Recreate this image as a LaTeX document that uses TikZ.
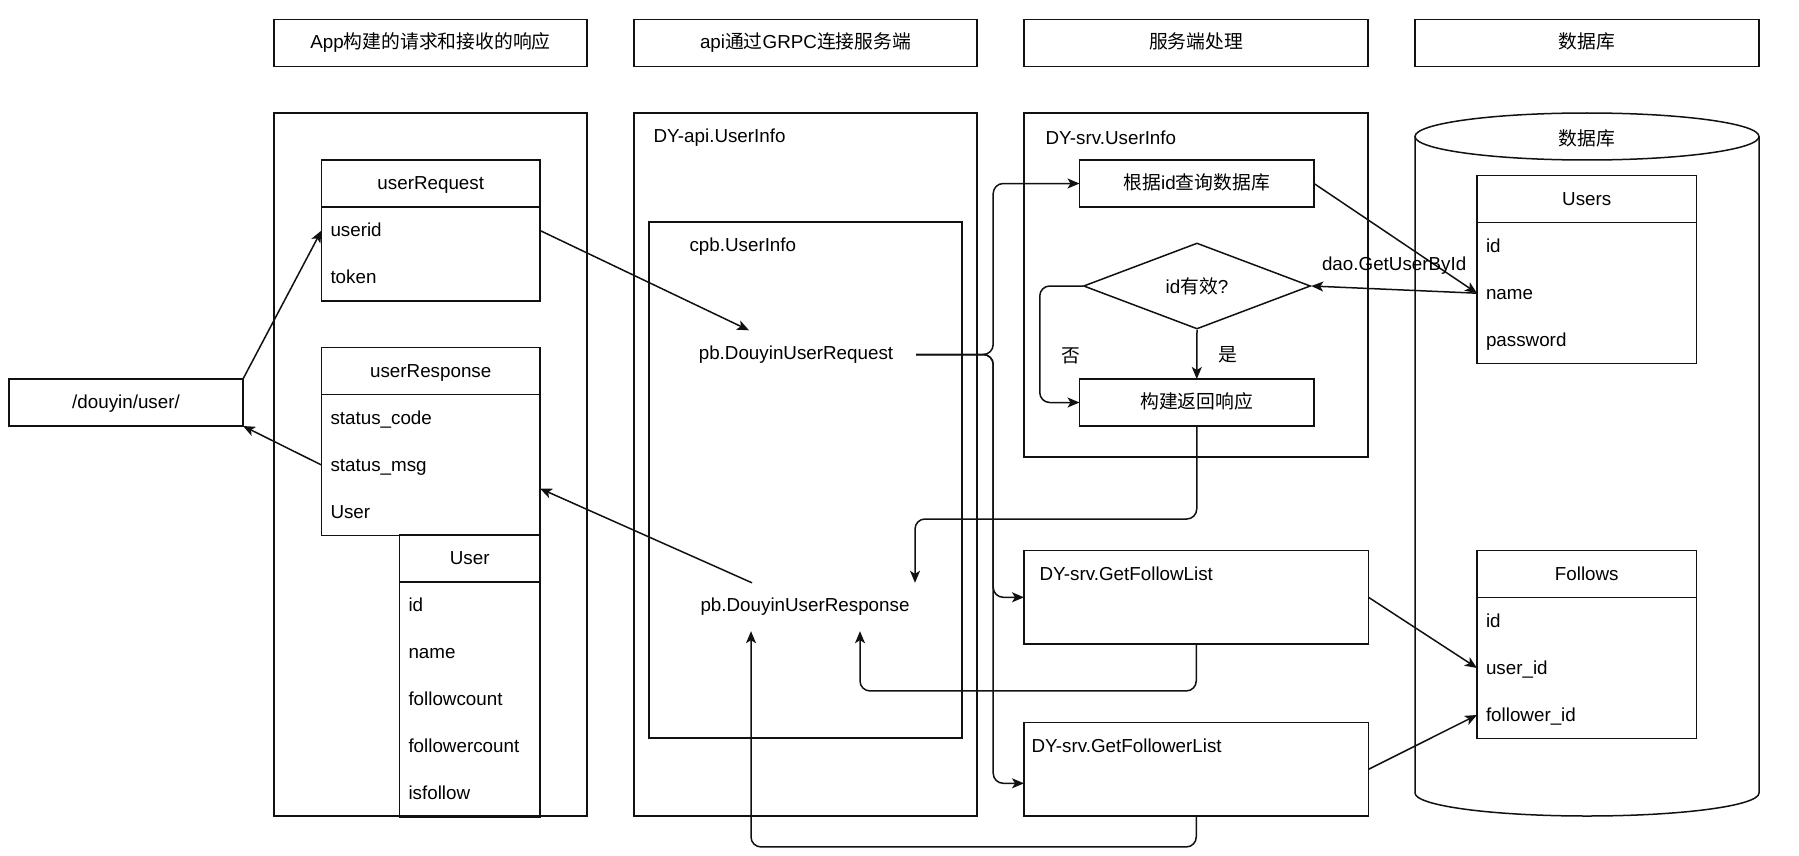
\documentclass[tikz,border=0pt]{standalone}
\usepackage{fontspec}
\setmainfont{Liberation Sans}
\newfontfamily\cjk{Noto Sans CJK SC}
\usetikzlibrary{arrows.meta,positioning,shapes.geometric}
\definecolor{ink}{HTML}{111111}

\begin{document}
\begin{tikzpicture}[x=1pt,y=-1pt,
  font=\fontsize{18.8}{22}\selectfont,
  box/.style={draw=ink,line width=1.5pt,inner sep=0pt,outer sep=0pt,minimum height=47pt,
              text height=16pt,text depth=4pt},
  hd/.style={box,minimum width=#1},
  row/.style={inner xsep=9pt,inner ysep=0pt,outer sep=0pt,minimum height=47pt,
              text width=#1,align=left,text height=16pt,text depth=4pt},
  arr/.style={draw=ink,line width=1.5pt,-{Stealth[length=12pt,width=10pt,inset=3pt]}},
  elbow/.style={arr,rounded corners=10pt}]
  \useasboundingbox (0,0) rectangle (1799,856);

  % column titles
  \node[hd=313pt] (hApp) at (430.5,43) {App{\cjk 构建的请求和接收的响应}};
  \node[hd=343pt] (hApi) at (805.5,43) {api{\cjk 通过}GRPC{\cjk 连接服务端}};
  \node[hd=344pt] (hSrv) at (1196,43) {{\cjk 服务端处理}};
  \node[hd=344pt] (hDb)  at (1587,43) {{\cjk 数据库}};

  % column frames
  \node[box,minimum width=313pt,minimum height=703pt] (cApp) at (430.5,464.5) {};
  \node[box,minimum width=343pt,minimum height=703pt] (cApi) at (805.5,464.5) {};
  \node[box,minimum width=313pt,minimum height=516pt] (cCpb) at (805.5,480) {};
  \node[box,minimum width=344pt,minimum height=344pt] (cSrv) at (1196,285) {};
  \node[anchor=west] (apiLbl) at ([xshift=16pt,yshift=-25pt]cApi.north west) {DY-api.UserInfo};
  \node[anchor=west] (cpbLbl) at ([xshift=37pt,yshift=-25pt]cCpb.north west) {cpb.UserInfo};
  \node[anchor=west] (srvLbl) at ([xshift=18pt,yshift=-25pt]cSrv.north west) {DY-srv.UserInfo};

  % database cylinder
  \draw[draw=ink,line width=1.5pt] (1415,136.5) -- (1415,793)
    arc[start angle=180,end angle=0,x radius=172,y radius=23] -- (1759,136.5);
  \draw[draw=ink,line width=1.5pt] (1587,136.5) ellipse[x radius=172,y radius=23.5];
  \node (dbLbl) at (1587,138) {{\cjk 数据库}};

  % client side
  \node[box,minimum width=234pt] (uri) at (126,402.5) {/douyin/user/};

  \node[hd=218.5pt] (reqHd) at (430.75,183.5) {userRequest};
  \node[row=200.5pt,below=0pt of reqHd] (reqId) {userid};
  \node[row=200.5pt,below=0pt of reqId] (reqTok) {token};
  \draw[draw=ink,line width=1.5pt] (reqId.north west) rectangle (reqTok.south east);

  \node[hd=218.5pt] (rspHd) at (430.75,371) {userResponse};
  \node[row=200.5pt,below=0pt of rspHd] (rspCode) {status\_code};
  \node[row=200.5pt,below=0pt of rspCode] (rspMsg) {status\_msg};
  \node[row=200.5pt,below=0pt of rspMsg] (rspUsr) {User};
  \draw[draw=ink,line width=1.5pt] (rspCode.north west) rectangle (rspUsr.south east);

  \node[hd=140.5pt] (usrHd) at (469.75,558.5) {User};
  \node[row=122.5pt,below=0pt of usrHd] (usrId) {id};
  \node[row=122.5pt,below=0pt of usrId] (usrName) {name};
  \node[row=122.5pt,below=0pt of usrName] (usrFlw) {followcount};
  \node[row=122.5pt,below=0pt of usrFlw] (usrFlr) {followercount};
  \node[row=122.5pt,below=0pt of usrFlr] (usrIs) {isfollow};
  \draw[draw=ink,line width=1.5pt] (usrId.north west) rectangle (usrIs.south east);

  % api side
  \node[minimum width=240pt,minimum height=48pt,inner sep=0pt] (req) at (796,354.5) {pb.DouyinUserRequest};
  \node[minimum width=240pt,minimum height=48pt,inner sep=0pt] (resp) at (805,607) {pb.DouyinUserResponse};

  % server side
  \node[box,minimum width=234.5pt] (qry) at (1196.75,183.5) {{\cjk 根据}id{\cjk 查询数据库}};
  \node[draw=ink,line width=1.5pt,diamond,aspect=2.6,inner sep=0pt,
        minimum width=227pt,minimum height=86pt] (chk) at (1197,286) {id{\cjk 有效}?};
  \node[box,minimum width=234.5pt] (bld) at (1196.75,402.5) {{\cjk 构建返回响应}};
  \node[box,minimum width=344.5pt,minimum height=93.3pt] (flw) at (1196.25,597.3) {};
  \node[box,minimum width=344.5pt,minimum height=93.3pt] (flr) at (1196.25,769.3) {};
  \node[anchor=west] (flwLbl) at ([xshift=12pt,yshift=-23pt]flw.north west) {DY-srv.GetFollowList};
  \node[anchor=west] (flrLbl) at ([xshift=4pt,yshift=-23pt]flr.north west) {DY-srv.GetFollowerList};

  % tables
  \node[hd=219.5pt] (usHd) at (1586.75,199.2) {Users};
  \node[row=201.5pt,below=0pt of usHd] (usId) {id};
  \node[row=201.5pt,below=0pt of usId] (usName) {name};
  \node[row=201.5pt,below=0pt of usName] (usPwd) {password};
  \draw[draw=ink,line width=1.5pt] (usId.north west) rectangle (usPwd.south east);

  \node[hd=219.5pt] (folHd) at (1586.75,574) {Follows};
  \node[row=201.5pt,below=0pt of folHd] (folId) {id};
  \node[row=201.5pt,below=0pt of folId] (folUid) {user\_id};
  \node[row=201.5pt,below=0pt of folUid] (folFid) {follower\_id};
  \draw[draw=ink,line width=1.5pt] (folId.north west) rectangle (folFid.south east);

  % connectors
  \draw[arr] (uri.north east) -- (reqId.west);
  \draw[arr] (rspMsg.west) -- (uri.south east);
  \draw[arr] (reqId.east) -- ([xshift=-47pt]req.north);
  \draw[elbow] (req.east) -- ++(77pt,0) |- (qry.west);
  \draw[elbow] (req.east) -- ++(77pt,0) |- (flw.west);
  \draw[elbow] (req.east) -- ++(77pt,0) |- ([yshift=-14pt]flr.west);
  \draw[arr] (qry.east) -- (usName.west);
  \draw[arr] (usName.west) -- node[above=11pt] (daoLbl) {dao.GetUserById} (chk.east);
  \draw[arr] (chk.south) -- node[right=18pt] (yesLbl) {{\cjk 是}} (bld.north);
  \draw[elbow] (chk.west) -- ++(-43pt,0) |- node[pos=0.3,right=18pt] (noLbl) {{\cjk 否}} (bld.west);
  \draw[elbow] (bld.south) -- ++(0,-93pt) -| ([xshift=110pt]resp.north);
  \draw[elbow] (flw.south) -- ++(0,-47pt) -| ([xshift=55pt]resp.south);
  \draw[elbow] (flr.south) -- ++(0,-31pt) -| ([xshift=-54pt]resp.south);
  \draw[arr] ([xshift=-53pt]resp.north) -- (rspMsg.south east);
  \draw[arr] (flw.east) -- (folUid.west);
  \draw[arr] (flr.east) -- (folFid.west);
\end{tikzpicture}
\end{document}
